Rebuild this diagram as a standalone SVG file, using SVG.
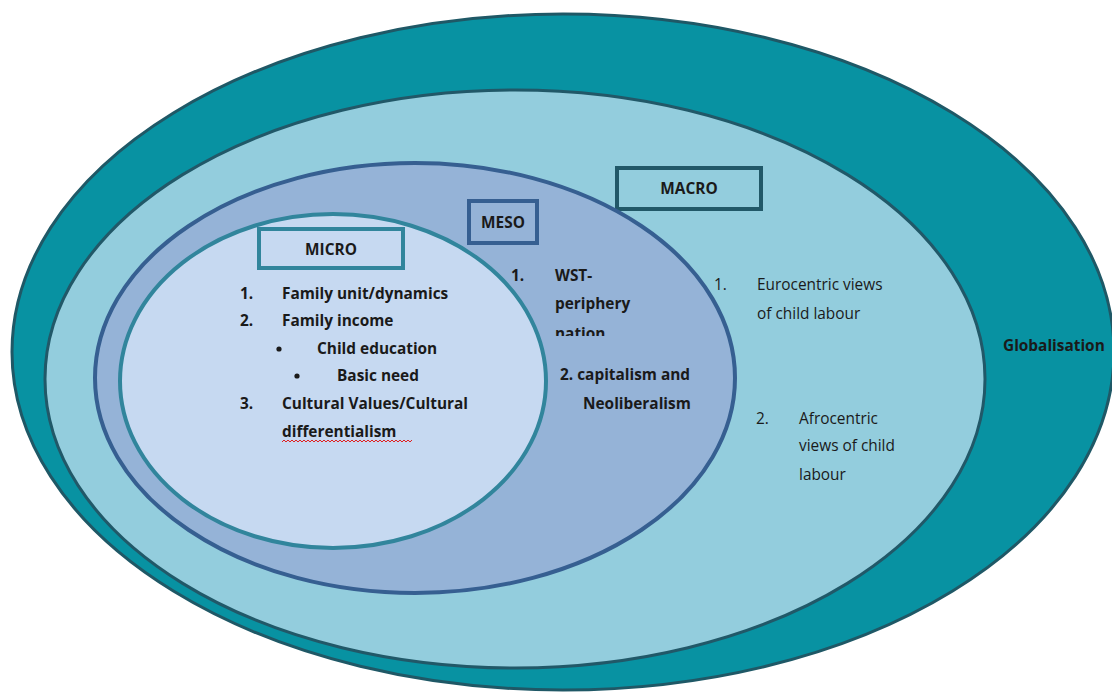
<svg xmlns="http://www.w3.org/2000/svg" width="1112" height="693" viewBox="0 0 1112 693">
  <style>
    .t { font-family: "Open Sans", Lato, "Liberation Sans", sans-serif; font-size: 15.4px; fill: #1a1a1a; }
    .b { font-weight: bold; }
    .box { stroke-width: 4; }
  </style>
  <defs>
    <clipPath id="mesoClip">
      <rect x="500" y="260" width="200" height="76"/>
    </clipPath>
  </defs>
  <rect width="1112" height="693" fill="#ffffff"/>

  <!-- Globalisation ring -->
  <g id="globalisation">
    <ellipse cx="563" cy="352" rx="551" ry="338" fill="#0892a2" stroke="#1f5866" stroke-width="3"/>
    <text class="t b" x="1003" y="351">Globalisation</text>
  </g>

  <!-- Macro level -->
  <g id="macro">
    <ellipse cx="515" cy="379" rx="470" ry="289" fill="#93cddd" stroke="#215868" stroke-width="3"/>
    <rect class="box" x="617" y="168" width="144" height="41" fill="#93cddd" stroke="#215868"/>
    <text class="t b" x="689" y="194" text-anchor="middle">MACRO</text>
    <text class="t" x="714" y="290">1.</text>
    <text class="t" x="757" y="290">Eurocentric views</text>
    <text class="t" x="757" y="319">of child labour</text>
    <text class="t" x="756" y="424">2.</text>
    <text class="t" x="799" y="424">Afrocentric</text>
    <text class="t" x="799" y="451">views of child</text>
    <text class="t" x="799" y="480">labour</text>
  </g>

  <!-- Meso level -->
  <g id="meso">
    <ellipse cx="415" cy="378" rx="320" ry="215" fill="#95b3d7" stroke="#365f91" stroke-width="4"/>
    <rect class="box" x="469" y="201" width="68" height="42" fill="#95b3d7" stroke="#365f91"/>
    <text class="t b" x="503" y="228" text-anchor="middle">MESO</text>
    <text class="t b" x="511" y="281">1.</text>
    <g clip-path="url(#mesoClip)">
      <text class="t b" x="555" y="281">WST-</text>
      <text class="t b" x="555" y="309">periphery</text>
      <text class="t b" x="555" y="339">nation</text>
    </g>
    <text class="t b" x="560" y="380">2. capitalism and</text>
    <text class="t b" x="583" y="409">Neoliberalism</text>
  </g>

  <!-- Micro level -->
  <g id="micro">
    <ellipse cx="333" cy="381" rx="213" ry="167" fill="#c6d9f1" stroke="#31859c" stroke-width="4"/>
    <rect class="box" x="259" y="229" width="144" height="39" fill="#c6d9f1" stroke="#31859c"/>
    <text class="t b" x="331" y="255" text-anchor="middle">MICRO</text>
    <text class="t b" x="240" y="299">1.</text>
    <text class="t b" x="282" y="299">Family unit/dynamics</text>
    <text class="t b" x="240" y="326">2.</text>
    <text class="t b" x="282" y="326">Family income</text>
    <circle cx="279" cy="349" r="2.6" fill="#1a1a1a"/>
    <text class="t b" x="317" y="354">Child education</text>
    <circle cx="297" cy="376" r="2.6" fill="#1a1a1a"/>
    <text class="t b" x="337" y="381">Basic need</text>
    <text class="t b" x="240" y="409">3.</text>
    <text class="t b" x="282" y="409">Cultural Values/Cultural</text>
    <text class="t b" x="282" y="437">differentialism</text>
    <!-- spelling squiggle under the last word -->
    <path d="M282 442 l2 -2 l2 2 l2 -2 l2 2 l2 -2 l2 2 l2 -2 l2 2 l2 -2 l2 2 l2 -2 l2 2 l2 -2 l2 2 l2 -2 l2 2 l2 -2 l2 2 l2 -2 l2 2 l2 -2 l2 2 l2 -2 l2 2 l2 -2 l2 2 l2 -2 l2 2 l2 -2 l2 2 l2 -2 l2 2 l2 -2 l2 2 l2 -2 l2 2 l2 -2 l2 2 l2 -2 l2 2 l2 -2 l2 2 l2 -2 l2 2 l2 -2 l2 2 l2 -2 l2 2 l2 -2 l2 2 l2 -2 l2 2 l2 -2 l2 2 l2 -2 l2 2 l2 -2 l2 2 l2 -2 l2 2 l2 -2 l2 2 l2 -2 l2 2 l2 -2" fill="none" stroke="#e02020" stroke-width="1"/>
  </g>
</svg>
